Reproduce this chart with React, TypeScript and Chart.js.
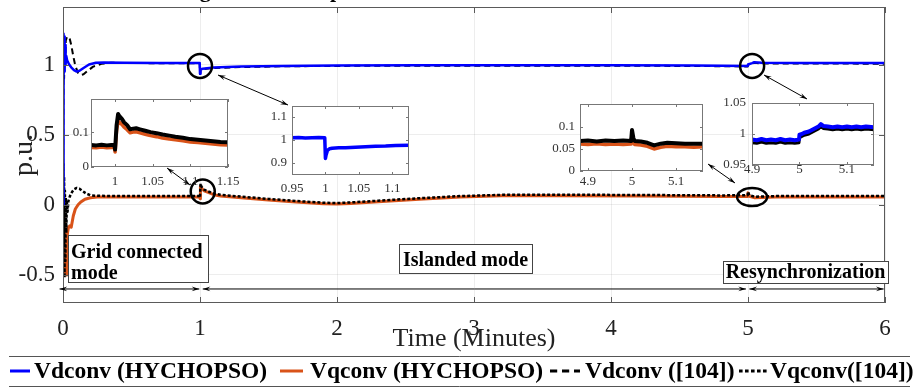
import React, { useEffect, useRef } from "react";
import { Chart, registerables } from "chart.js";
Chart.register(...registerables);

const SERIF = "'Liberation Serif', 'Times New Roman', Times, serif";

// ---------- main chart ----------
const xTickVals = [0, 1, 2, 3, 4, 5, 6];
const yTickVals = [-0.5, 0, 0.5, 1];

// [time (min), p.u.]
const vdconvHychopso: [number, number][] = [
  [0, 0], [0.002, 1.05], [0.004, 1.22], [0.006, 0.92], [0.008, 1.2], [0.01, 0.95], [0.012, 1.18],
  [0.014, 0.97], [0.016, 1.14], [0.019, 1.0], [0.024, 1.06], [0.03, 1.03], [0.045, 1.0], [0.06, 0.98],
  [0.08, 0.96], [0.1, 0.95], [0.12, 0.955], [0.15, 0.975], [0.19, 1.0], [0.24, 1.012], [0.3, 1.015],
  [0.45, 1.012], [0.7, 1.01], [0.998, 1.01], [1.0, 0.935], [1.004, 0.965], [1.02, 0.97], [1.1, 0.978],
  [1.3, 0.985], [1.6, 0.99], [2.0, 0.993], [2.6, 0.995], [3.2, 0.995], [4.0, 0.994], [4.6, 0.993],
  [4.998, 0.99], [5.0, 1.0], [5.03, 1.01], [5.045, 1.016], [5.1, 1.012], [5.4, 1.011], [6.0, 1.01],
];
const vqconvHychopso: [number, number][] = [
  [0, 0], [0.003, -0.25], [0.006, 0.08], [0.009, -0.4], [0.012, -0.1], [0.015, -0.48], [0.018, -0.25],
  [0.022, -0.5], [0.027, -0.3], [0.033, -0.2], [0.04, -0.16], [0.05, -0.15], [0.06, -0.16], [0.075, -0.08],
  [0.09, -0.03], [0.11, 0.0], [0.13, 0.02], [0.16, 0.04], [0.2, 0.05], [0.25, 0.055], [0.4, 0.056],
  [0.7, 0.056], [0.998, 0.056], [1.0, 0.044], [1.003, 0.132], [1.01, 0.12], [1.03, 0.1], [1.06, 0.088],
  [1.1, 0.072], [1.15, 0.063], [1.3, 0.05], [1.5, 0.035], [1.7, 0.02], [1.9, 0.008], [2.0, 0.005],
  [2.1, 0.01], [2.3, 0.022], [2.6, 0.04], [2.9, 0.055], [3.2, 0.064], [3.6, 0.065], [4.2, 0.063],
  [4.8, 0.06], [4.998, 0.06], [5.0, 0.085], [5.01, 0.06], [5.05, 0.05], [5.2, 0.055], [6.0, 0.055],
];
const vdconvRef104: [number, number][] = [
  [0, 0], [0.004, 1.1], [0.008, 0.9], [0.012, 1.15], [0.016, 1.0], [0.02, 1.17], [0.03, 1.2], [0.04, 1.19],
  [0.05, 1.18], [0.06, 1.14], [0.075, 1.06], [0.09, 0.99], [0.11, 0.94], [0.13, 0.925], [0.15, 0.93],
  [0.18, 0.955], [0.22, 0.985], [0.28, 1.005], [0.35, 1.012], [0.6, 1.01], [0.998, 1.008], [1.0, 0.932],
  [1.004, 0.962], [1.02, 0.967], [1.1, 0.975], [1.3, 0.982], [1.6, 0.987], [2.0, 0.99], [2.6, 0.992],
  [3.2, 0.992], [4.0, 0.991], [4.6, 0.99], [4.998, 0.986], [5.0, 0.996], [5.03, 1.006], [5.045, 1.012],
  [5.1, 1.008], [5.4, 1.007], [6.0, 1.006],
];
const vqconvRef104: [number, number][] = [
  [0, 0], [0.002, 0.29], [0.005, -0.3], [0.008, 0.2], [0.011, -0.52], [0.014, 0.1], [0.017, -0.4],
  [0.02, 0.05], [0.024, -0.2], [0.028, 0.02], [0.033, -0.05], [0.04, 0.03], [0.05, 0.06], [0.065, 0.09],
  [0.08, 0.11], [0.1, 0.12], [0.12, 0.115], [0.14, 0.1], [0.17, 0.08], [0.2, 0.068], [0.25, 0.064],
  [0.4, 0.063], [0.7, 0.063], [0.998, 0.063], [1.0, 0.052], [1.004, 0.152], [1.01, 0.13], [1.03, 0.108],
  [1.06, 0.096], [1.1, 0.08], [1.15, 0.071], [1.3, 0.058], [1.5, 0.042], [1.7, 0.027], [1.9, 0.015],
  [2.0, 0.012], [2.1, 0.017], [2.3, 0.029], [2.6, 0.047], [2.9, 0.062], [3.2, 0.071], [3.6, 0.072],
  [4.2, 0.07], [4.8, 0.067], [4.998, 0.068], [5.0, 0.094], [5.01, 0.068], [5.05, 0.058], [5.2, 0.062],
  [6.0, 0.062],
];

const seriesLabels = ["Vdconv (HYCHOPSO)", "Vqconv (HYCHOPSO)", "Vdconv ([104])", "Vqconv([104])"];
const modeLabels = ["Grid connected", "mode", "Islanded mode", "Resynchronization"];
const axisTitleX = "Time (Minutes)";
const axisTitleY = "p.u.";
const figTitle = "Voltages of the Output Inverter for HYCHOPSO and the Method in [104]";

// ---------- inset data ----------
const in1Ticks = { x: [1, 1.05, 1.1, 1.15], y: [0, 0.1] };
const in1Orange: [number, number][] = [
  [0.968, 0.056], [0.975, 0.055], [0.982, 0.057], [0.989, 0.055], [0.995, 0.056], [0.999, 0.056],
  [1.0, 0.043], [1.002, 0.105], [1.004, 0.132], [1.006, 0.128], [1.009, 0.122], [1.012, 0.114],
  [1.016, 0.107], [1.02, 0.098], [1.024, 0.1], [1.028, 0.101], [1.033, 0.098], [1.04, 0.094],
  [1.047, 0.09], [1.055, 0.087], [1.063, 0.083], [1.072, 0.08], [1.08, 0.078], [1.09, 0.075],
  [1.1, 0.072], [1.11, 0.07], [1.12, 0.068], [1.13, 0.066], [1.14, 0.064], [1.15, 0.063],
];
const in1Black: [number, number][] = [
  [0.968, 0.063], [0.975, 0.062], [0.982, 0.064], [0.989, 0.062], [0.995, 0.063], [0.999, 0.063],
  [1.0, 0.05], [1.002, 0.12], [1.004, 0.152], [1.006, 0.145], [1.009, 0.138], [1.012, 0.128],
  [1.016, 0.12], [1.02, 0.108], [1.024, 0.11], [1.028, 0.111], [1.033, 0.108], [1.04, 0.104],
  [1.047, 0.1], [1.055, 0.097], [1.063, 0.093], [1.072, 0.09], [1.08, 0.087], [1.09, 0.084],
  [1.1, 0.08], [1.11, 0.078], [1.12, 0.076], [1.13, 0.074], [1.14, 0.072], [1.15, 0.071],
];
const in2Ticks = { x: [0.95, 1, 1.05, 1.1], y: [0.9, 1, 1.1] };
const in2Blue: [number, number][] = [
  [0.95, 1.01], [0.96, 1.011], [0.97, 1.009], [0.98, 1.01], [0.99, 1.011], [0.999, 1.01], [1.0, 0.92],
  [1.001, 0.935], [1.003, 0.955], [1.006, 0.962], [1.01, 0.964], [1.02, 0.966], [1.03, 0.967],
  [1.045, 0.969], [1.06, 0.971], [1.075, 0.973], [1.09, 0.974], [1.105, 0.976], [1.125, 0.977],
];
const in3Ticks = { x: [4.9, 5, 5.1], y: [0, 0.05, 0.1] };
const in3Black: [number, number][] = [
  [4.882, 0.068], [4.9, 0.069], [4.92, 0.067], [4.94, 0.069], [4.96, 0.068], [4.98, 0.069], [4.998, 0.068],
  [5.0, 0.093], [5.003, 0.075], [5.006, 0.068], [5.02, 0.067], [5.035, 0.064], [5.05, 0.058], [5.065, 0.062],
  [5.08, 0.064], [5.1, 0.063], [5.12, 0.062], [5.14, 0.062], [5.161, 0.062],
];
const in3Orange: [number, number][] = [
  [4.882, 0.061], [4.9, 0.06], [4.92, 0.062], [4.94, 0.06], [4.96, 0.061], [4.98, 0.06], [4.998, 0.061],
  [5.0, 0.086], [5.003, 0.066], [5.006, 0.06], [5.02, 0.059], [5.035, 0.056], [5.05, 0.05], [5.065, 0.054],
  [5.08, 0.056], [5.1, 0.055], [5.12, 0.055], [5.14, 0.054], [5.161, 0.055],
];
const in4Ticks = { x: [4.9, 5, 5.1], y: [0.95, 1, 1.05] };
const in4Blue: [number, number][] = [
  [4.9, 0.991], [4.91, 0.99], [4.92, 0.992], [4.93, 0.99], [4.94, 0.991], [4.95, 0.99], [4.96, 0.992],
  [4.97, 0.99], [4.98, 0.991], [4.99, 0.99], [4.999, 0.991], [5.0, 0.999], [5.005, 1.0], [5.01, 1.002],
  [5.02, 1.004], [5.03, 1.008], [5.04, 1.012], [5.045, 1.016], [5.05, 1.013], [5.06, 1.012], [5.07, 1.011],
  [5.08, 1.012], [5.09, 1.011], [5.1, 1.012], [5.11, 1.011], [5.12, 1.012], [5.13, 1.011], [5.14, 1.012],
  [5.157, 1.011],
];
const in4Black: [number, number][] = [
  [4.9, 0.986], [4.91, 0.985], [4.92, 0.987], [4.93, 0.985], [4.94, 0.986], [4.95, 0.985], [4.96, 0.987],
  [4.97, 0.985], [4.98, 0.986], [4.99, 0.985], [4.999, 0.986], [5.0, 0.994], [5.005, 0.996], [5.01, 0.998],
  [5.02, 1.0], [5.03, 1.004], [5.04, 1.008], [5.045, 1.012], [5.05, 1.009], [5.06, 1.008], [5.07, 1.007],
  [5.08, 1.008], [5.09, 1.007], [5.1, 1.008], [5.11, 1.007], [5.12, 1.008], [5.13, 1.007], [5.14, 1.008],
  [5.157, 1.007],
];

const BLUE = "#0000FF";
const ORANGE = "#D95319";
const BLACK = "#000000";

const toXY = (arr: [number, number][]) => arr.map(([x, y]) => ({ x, y }));
const fmt = (v: number) => String(Math.round(v * 1000) / 1000);

function arrowHead(ctx: CanvasRenderingContext2D, x: number, y: number, fx: number, fy: number, size = 8) {
  const ang = Math.atan2(y - fy, x - fx);
  ctx.beginPath();
  ctx.moveTo(x, y);
  ctx.lineTo(x - size * Math.cos(ang - 0.3), y - size * Math.sin(ang - 0.3));
  ctx.lineTo(x - size * 0.6 * Math.cos(ang), y - size * 0.6 * Math.sin(ang));
  ctx.lineTo(x - size * Math.cos(ang + 0.3), y - size * Math.sin(ang + 0.3));
  ctx.closePath();
  ctx.fill();
}
function dblArrow(ctx: CanvasRenderingContext2D, x1: number, y1: number, x2: number, y2: number) {
  ctx.beginPath();
  ctx.moveTo(x1, y1);
  ctx.lineTo(x2, y2);
  ctx.stroke();
  arrowHead(ctx, x1, y1, x2, y2);
  arrowHead(ctx, x2, y2, x1, y1);
}

// legend entry placement (sample start, sample width, text start)
const legendSlots: [number, number, number][] = [[10, 20, 34], [280, 23, 310], [550, 30, 585], [739, 28, 770]];

const mainOverlay = {
  id: "mainOverlay",
  afterDraw(chart: any) {
    const { ctx, chartArea: a, scales } = chart;
    const x = scales.x, y = scales.y;
    ctx.save();
    // frame
    ctx.strokeStyle = "#5a5a5a";
    ctx.lineWidth = 1;
    ctx.strokeRect(a.left + 0.5, a.top + 0.5, a.right - a.left - 1, a.bottom - a.top - 1);
    ctx.beginPath();
    xTickVals.forEach((v) => {
      const px = Math.round(x.getPixelForValue(v)) + 0.5;
      ctx.moveTo(px, a.bottom); ctx.lineTo(px, a.bottom - 6);
      ctx.moveTo(px, a.top); ctx.lineTo(px, a.top + 6);
    });
    yTickVals.forEach((v) => {
      const py = Math.round(y.getPixelForValue(v)) + 0.5;
      ctx.moveTo(a.left, py); ctx.lineTo(a.left + 6, py);
      ctx.moveTo(a.right, py); ctx.lineTo(a.right - 6, py);
    });
    ctx.stroke();

    // cut-off title (only the descenders remain visible)
    ctx.fillStyle = "#000";
    ctx.font = `bold 22px ${SERIF}`;
    ctx.textAlign = "right";
    ctx.textBaseline = "alphabetic";
    ctx.fillText(figTitle, 842, -3);

    // circles
    ctx.strokeStyle = "#000";
    ctx.lineWidth = 2.5;
    const circles: [number, number, number, number][] = [
      [1.0, 0.99, 12, 12], [1.02, 0.095, 12, 12], [5.03, 0.99, 12, 12], [5.03, 0.055, 15, 9],
    ];
    circles.forEach(([cx, cy, rx, ry]) => {
      ctx.beginPath();
      ctx.ellipse(x.getPixelForValue(cx), y.getPixelForValue(cy), rx, ry, 0, 0, Math.PI * 2);
      ctx.stroke();
    });

    // callout arrows
    ctx.lineWidth = 1;
    ctx.fillStyle = "#000";
    const callouts: [number, number, number, number][] = [
      [218, 75, 288, 105], [167, 168, 190, 185], [708, 164, 735, 183], [764, 75, 807, 99],
    ];
    callouts.forEach(([x1, y1, x2, y2]) => dblArrow(ctx, x1, y1, x2, y2));

    // mode arrows
    const ya = y.getPixelForValue(-0.6);
    const spans: [number, number][] = [[-0.025, 0.995], [1.02, 4.985], [5.01, 5.99]];
    spans.forEach(([s, e]) => dblArrow(ctx, x.getPixelForValue(s), ya, x.getPixelForValue(e), ya));

    // mode text boxes
    ctx.font = `bold 20px ${SERIF}`;
    ctx.textBaseline = "alphabetic";
    const boxes: [number, number, number, number][] = [[68, 235, 208, 282], [399, 244, 532, 273], [723, 261, 888, 283]];
    boxes.forEach(([l, t, r, b]) => {
      ctx.fillStyle = "#fff";
      ctx.fillRect(l, t, r - l, b - t);
      ctx.strokeStyle = "#444";
      ctx.strokeRect(l + 0.5, t + 0.5, r - l, b - t);
    });
    ctx.fillStyle = "#000";
    ctx.textAlign = "left";
    ctx.fillText(modeLabels[0], 71, 258);
    ctx.fillText(modeLabels[1], 71, 279);
    ctx.textAlign = "center";
    ctx.fillText(modeLabels[2], 465.5, 266);
    ctx.fillText(modeLabels[3], 805.5, 278);

    // legend (drawn from the datasets' own styles)
    ctx.strokeStyle = "#555";
    ctx.lineWidth = 1;
    ctx.setLineDash([]);
    ctx.beginPath();
    ctx.moveTo(9, 356.5); ctx.lineTo(910, 356.5);
    ctx.moveTo(9, 386.5); ctx.lineTo(910, 386.5);
    ctx.stroke();
    const ly = 371;
    ctx.font = `bold 23.5px ${SERIF}`;
    ctx.textAlign = "left";
    ctx.textBaseline = "middle";
    chart.data.datasets.forEach((ds: any, i: number) => {
      const [sx, sw, tx] = legendSlots[i];
      ctx.save();
      ctx.strokeStyle = ds.borderColor;
      ctx.lineWidth = 3;
      ctx.setLineDash(ds.borderDash ? ds.borderDash.map((d: number) => d * 1.2) : []);
      ctx.beginPath();
      ctx.moveTo(sx, ly); ctx.lineTo(sx + sw, ly);
      ctx.stroke();
      ctx.restore();
      ctx.fillStyle = "#000";
      ctx.fillText(ds.label, tx, ly + 1);
    });
    ctx.restore();
  },
};

type InsetSeries = { data: [number, number][]; color: string; width: number };
type InsetCfg = {
  box: [number, number, number, number];
  xr: [number, number];
  yr: [number, number];
  ticks: { x: number[]; y: number[] };
  xPad: number;
  yPad: number;
  series: InsetSeries[];
};

const insets: InsetCfg[] = [
  { box: [91, 99, 228, 167], xr: [0.968, 1.15], yr: [0, 0.195], ticks: in1Ticks, xPad: 7, yPad: 2,
    series: [{ data: in1Black, color: BLACK, width: 4 }, { data: in1Orange, color: ORANGE, width: 3.5 }] },
  { box: [292, 106, 409, 175], xr: [0.95, 1.125], yr: [0.848, 1.148], ticks: in2Ticks, xPad: 6, yPad: 5,
    series: [{ data: in2Blue, color: BLUE, width: 3.5 }] },
  { box: [580, 104, 703, 171], xr: [4.882, 5.161], yr: [0, 0.152], ticks: in3Ticks, xPad: 3, yPad: 5,
    series: [{ data: in3Black, color: BLACK, width: 4 }, { data: in3Orange, color: ORANGE, width: 3.5 }] },
  { box: [752, 103, 874, 165], xr: [4.9, 5.157], yr: [0.95, 1.05], ticks: in4Ticks, xPad: -3, yPad: 6,
    series: [{ data: in4Blue, color: BLUE, width: 4 }, { data: in4Black, color: BLACK, width: 3 }] },
];

const IN_L = 44, IN_T = 10, IN_R = 16, IN_B = 26;

function makeInsetPlugin(cfg: InsetCfg) {
  return {
    id: "insetFrame",
    beforeDraw(chart: any) {
      const { ctx, chartArea: a } = chart;
      ctx.save();
      ctx.fillStyle = "#fff";
      ctx.fillRect(a.left, a.top, a.right - a.left, a.bottom - a.top);
      ctx.restore();
    },
    afterDraw(chart: any) {
      const { ctx, chartArea: a, scales } = chart;
      ctx.save();
      ctx.strokeStyle = "#777";
      ctx.lineWidth = 1;
      ctx.strokeRect(a.left + 0.5, a.top + 0.5, a.right - a.left - 1, a.bottom - a.top - 1);
      ctx.beginPath();
      cfg.ticks.x.forEach((v) => {
        const px = Math.round(scales.x.getPixelForValue(v)) + 0.5;
        ctx.moveTo(px, a.bottom); ctx.lineTo(px, a.bottom - 3);
        ctx.moveTo(px, a.top); ctx.lineTo(px, a.top + 3);
      });
      cfg.ticks.y.forEach((v) => {
        const py = Math.round(scales.y.getPixelForValue(v)) + 0.5;
        ctx.moveTo(a.left, py); ctx.lineTo(a.left + 3, py);
        ctx.moveTo(a.right, py); ctx.lineTo(a.right - 3, py);
      });
      ctx.stroke();
      ctx.restore();
    },
  };
}

function Inset({ cfg }: { cfg: InsetCfg }) {
  const ref = useRef<HTMLCanvasElement>(null);
  const [l, t, r, b] = cfg.box;
  const w = r - l + IN_L + IN_R;
  const h = b - t + IN_T + IN_B;
  useEffect(() => {
    if (!ref.current) return;
    const tickFont = { family: SERIF, size: 13 };
    const chart = new Chart(ref.current, {
      type: "line",
      data: {
        datasets: cfg.series.map((s) => ({
          data: toXY(s.data), borderColor: s.color, borderWidth: s.width, pointRadius: 0, tension: 0, fill: false,
          borderJoinStyle: "round", borderCapStyle: "round",
        })),
      },
      options: {
        animation: false, responsive: false, maintainAspectRatio: false,
        layout: { padding: { left: 0, top: IN_T, right: IN_R, bottom: 0 } },
        plugins: { legend: { display: false }, tooltip: { enabled: false } },
        scales: {
          x: {
            type: "linear", min: cfg.xr[0], max: cfg.xr[1],
            grid: { display: false, drawTicks: false }, border: { display: false },
            ticks: { font: tickFont, color: "#333", padding: cfg.xPad, maxRotation: 0, callback: (v: any) => fmt(+v) },
            afterBuildTicks: (s: any) => { s.ticks = cfg.ticks.x.map((v) => ({ value: v })); },
            afterFit: (s: any) => { s.height = IN_B; s.paddingLeft = 0; s.paddingRight = 0; },
          },
          y: {
            type: "linear", min: cfg.yr[0], max: cfg.yr[1],
            grid: { display: false, drawTicks: false }, border: { display: false },
            ticks: { font: tickFont, color: "#333", padding: cfg.yPad, callback: (v: any) => fmt(+v) },
            afterBuildTicks: (s: any) => { s.ticks = cfg.ticks.y.map((v) => ({ value: v })); },
            afterFit: (s: any) => { s.width = IN_L; s.paddingTop = 0; s.paddingBottom = 0; },
          },
        },
      },
      plugins: [makeInsetPlugin(cfg)],
    } as any);
    return () => chart.destroy();
  }, [cfg]);
  return (
    <canvas ref={ref} width={w} height={h}
      style={{ position: "absolute", left: l - IN_L, top: t - IN_T, width: w, height: h }} />
  );
}

export default function App() {
  const ref = useRef<HTMLCanvasElement>(null);
  useEffect(() => {
    document.body.style.margin = "0";
    if (!ref.current) return;
    const tickFont = { family: SERIF, size: 23 };
    const grid = { color: "rgba(0,0,0,0.07)", drawTicks: false, lineWidth: 1 };
    const chart = new Chart(ref.current, {
      type: "line",
      data: {
        datasets: [
          { label: seriesLabels[0], data: toXY(vdconvHychopso), borderColor: BLUE, borderWidth: 2.5, order: 0 },
          { label: seriesLabels[1], data: toXY(vqconvHychopso), borderColor: ORANGE, borderWidth: 3, order: 2 },
          { label: seriesLabels[2], data: toXY(vdconvRef104), borderColor: BLACK, borderWidth: 2, borderDash: [6, 4], order: 3 },
          { label: seriesLabels[3], data: toXY(vqconvRef104), borderColor: BLACK, borderWidth: 2.5, borderDash: [3, 2], order: 1 },
        ].map((d) => ({ ...d, backgroundColor: d.borderColor, pointRadius: 0, tension: 0, fill: false, borderJoinStyle: "round" })),
      },
      options: {
        animation: false, responsive: false, maintainAspectRatio: false,
        layout: { padding: { left: 0, right: 0, top: 7, bottom: 33 } },
        plugins: { tooltip: { enabled: false }, legend: { display: false } },
        scales: {
          x: {
            type: "linear", min: 0, max: 6,
            grid, border: { display: false },
            ticks: { stepSize: 1, font: tickFont, color: "#222", padding: 12, maxRotation: 0 },
            afterBuildTicks: (s: any) => { s.ticks = xTickVals.map((v) => ({ value: v })); },
            title: { display: true, text: axisTitleX, font: { family: SERIF, size: 26 }, color: "#222", padding: { top: 0, bottom: 0 } },
            afterFit: (s: any) => { s.height = 52; s.paddingLeft = 0; s.paddingRight = 0; },
          },
          y: {
            type: "linear", min: -0.7, max: 1.41,
            grid, border: { display: false },
            ticks: { font: tickFont, color: "#222", padding: 8, callback: (v: any) => fmt(+v) },
            afterBuildTicks: (s: any) => { s.ticks = yTickVals.map((v) => ({ value: v })); },
            title: { display: true, text: axisTitleY, font: { family: SERIF, size: 28 }, color: "#222", padding: { top: 8, bottom: 0 } },
            afterFit: (s: any) => { s.width = 63; s.paddingTop = 0; s.paddingBottom = 0; },
          },
          y2: {
            type: "linear", position: "right", display: true,
            grid: { display: false }, border: { display: false }, ticks: { display: false },
            afterFit: (s: any) => { s.width = 33; s.paddingTop = 0; s.paddingBottom = 0; },
          },
        },
      },
      plugins: [mainOverlay],
    } as any);
    return () => chart.destroy();
  }, []);
  return (
    <div style={{ position: "relative", width: 918, height: 388, overflow: "hidden", background: "#fff" }}>
      <canvas ref={ref} width={918} height={388} style={{ position: "absolute", left: 0, top: 0, width: 918, height: 388 }} />
      {insets.map((c, i) => <Inset key={i} cfg={c} />)}
    </div>
  );
}
